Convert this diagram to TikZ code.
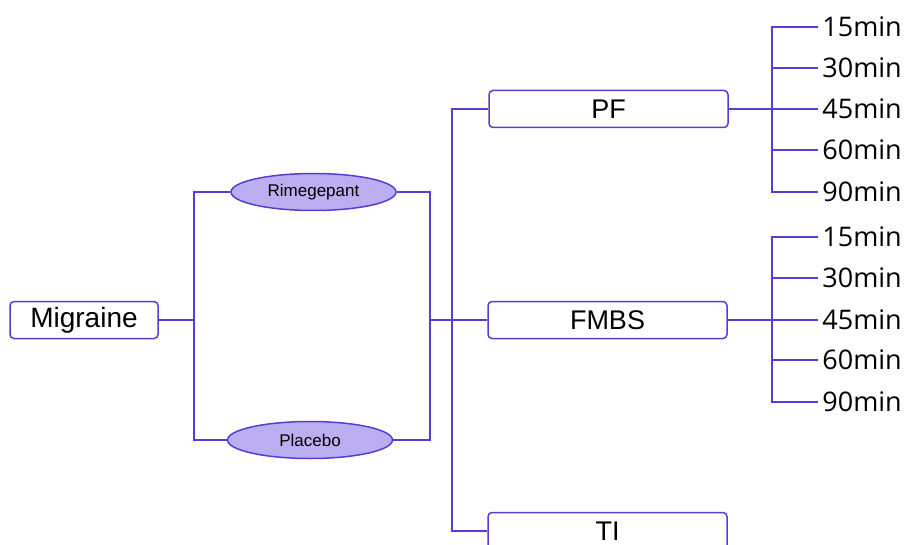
\documentclass[tikz,border=0pt]{standalone}
\usepackage{fontspec}
\setmainfont{Liberation Sans}
\newfontfamily\minfont{Open Sans}
\usetikzlibrary{shapes.geometric,positioning}
\definecolor{mmline}{RGB}{82,64,214}
\definecolor{mmfill}{RGB}{188,174,240}

\begin{document}
\begin{tikzpicture}[x=0.5pt,y=-0.5pt,
 ln/.style={draw=mmline,line width=0.75pt},
 box/.style={draw=mmline,line width=0.75pt,rounded corners=2pt,fill=white,align=center,inner sep=0pt,minimum height=18.5pt},
 branch/.style={box,minimum width=119.5pt,font=\fontsize{13.5}{15}\selectfont},
 arm/.style={ellipse,draw=mmline,line width=0.75pt,fill=mmfill,inner sep=0pt,minimum width=82.5pt,minimum height=18.5pt,font=\fontsize{8.5}{10}\selectfont},
 leaf/.style={anchor=west,inner sep=2pt,font=\minfont\fontsize{13.5}{15}\selectfont}]
\useasboundingbox (0,0) rectangle (914,545);
\clip (0,0) rectangle (914,545);
\node[box,minimum width=74pt,font=\fontsize{14}{16}\selectfont] (mig) at (84,320) {Migraine};
\node[arm] (rim) at (313.5,192) {Rimegepant};
\node[arm] (pla) at (310,440) {Placebo};
\node[branch] (pf) at (608.5,109) {PF};
\node[branch] (fmbs) at (607.5,320) {FMBS};
\node[branch] (ti) at (607.5,531) {TI};
% junctions
\coordinate (j1) at (194,320);
\coordinate (j2) at (430,320);
\coordinate (j3) at (452,320);
\coordinate (k1) at (772,109);
\coordinate (k2) at (772,320);
% time points
\node[leaf] (p1) at (818,27) {15min};
\node[leaf] (p2) at (818,68) {30min};
\node[leaf] (p3) at (818,109) {45min};
\node[leaf] (p4) at (818,150) {60min};
\node[leaf] (p5) at (818,192) {90min};
\node[leaf] (f1) at (818,237) {15min};
\node[leaf] (f2) at (818,278) {30min};
\node[leaf] (f3) at (818,320) {45min};
\node[leaf] (f4) at (818,360) {60min};
\node[leaf] (f5) at (818,402) {90min};
\draw[ln] (mig) -- (j1); \draw[ln] (j1) |- (rim); \draw[ln] (j1) |- (pla);
\draw[ln] (rim.east) -| (j2); \draw[ln] (pla.east) -| (j2); \draw[ln] (j2) -- (j3);
\draw[ln] (j3) |- (pf); \draw[ln] (j3) |- (fmbs); \draw[ln] (j3) |- (ti);
\draw[ln] (pf) -- (k1);
\draw[ln] (k1) |- (p1); \draw[ln] (k1) |- (p2); \draw[ln] (k1) -- (p3);
\draw[ln] (k1) |- (p4); \draw[ln] (k1) |- (p5);
\draw[ln] (fmbs) -- (k2);
\draw[ln] (k2) |- (f1); \draw[ln] (k2) |- (f2); \draw[ln] (k2) -- (f3);
\draw[ln] (k2) |- (f4); \draw[ln] (k2) |- (f5);
\end{tikzpicture}
\end{document}
